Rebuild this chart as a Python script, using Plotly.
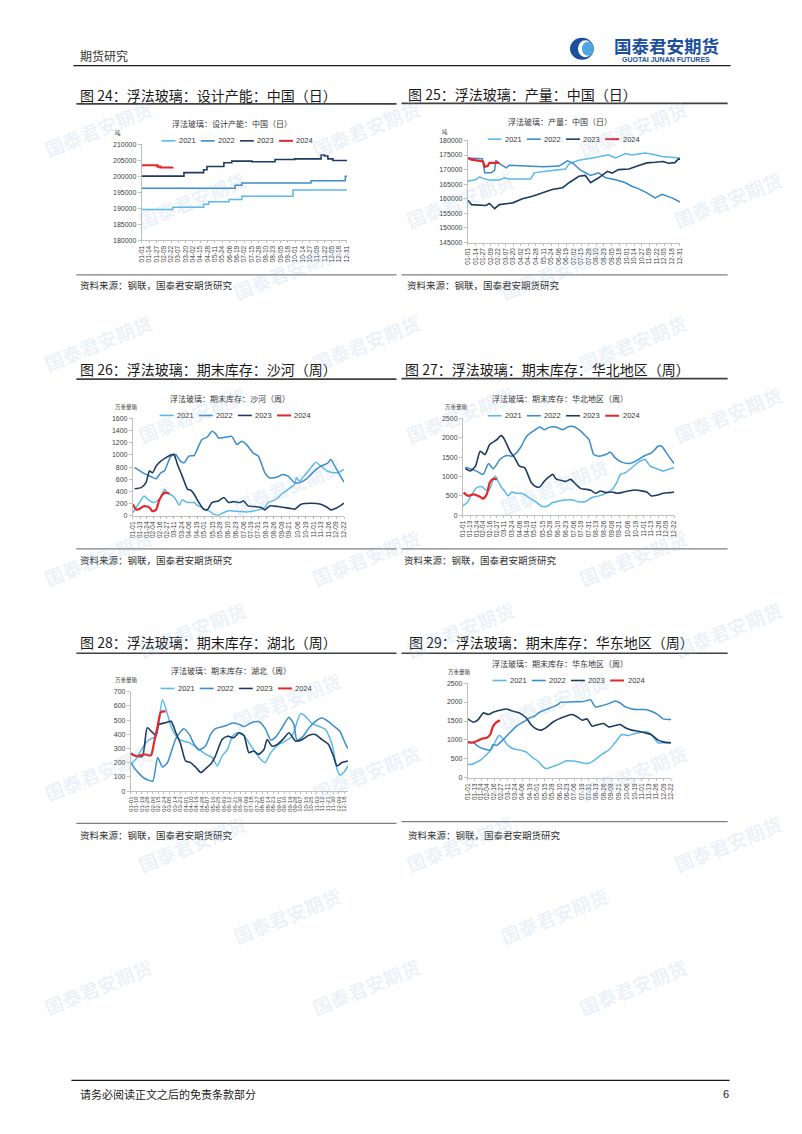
import datetime
import plotly.graph_objects as go

W, H = 802, 1134

# ------------------------------------------------------------------ data
YEARS = ["2021", "2022", "2023", "2024"]

DAILY_TICKS = ["01-01", "01-14", "01-27", "02-09", "02-22", "03-07", "03-20", "04-02",
               "04-15", "04-28", "05-11", "05-24", "06-06", "06-19", "07-02", "07-15",
               "07-28", "08-10", "08-23", "09-05", "09-18", "10-01", "10-14", "10-27",
               "11-09", "11-22", "12-05", "12-18", "12-31"]
WEEKLY_TICKS = ["01-01", "01-13", "01-24", "02-04", "02-16", "02-27", "03-11", "03-24",
                "04-06", "04-19", "05-01", "05-15", "05-28", "06-10", "06-23", "07-06",
                "07-19", "07-31", "08-13", "08-26", "09-08", "09-21", "10-06", "10-19",
                "11-01", "11-13", "11-26", "12-09", "12-22"]
HUBEI_TICKS = ["01-01", "01-10", "01-19", "01-28", "02-06", "02-15", "02-24", "03-05",
               "03-14", "03-23", "04-01", "04-10", "04-19", "04-28", "05-07", "05-16",
               "05-25", "06-03", "06-12", "06-21", "06-30", "07-09", "07-18", "07-27",
               "08-05", "08-14", "08-23", "09-01", "09-10", "09-19", "09-28", "10-07",
               "10-16", "10-25", "11-03", "11-12", "11-21", "11-30", "12-09", "12-18"]

# Fig 24 design capacity (t/day), x = day of year
CAP21_D = [0, 55, 110, 119, 155, 178, 269, 365]
CAP21_V = [189600, 190300, 191200, 192000, 192700, 193700, 195700, 195700]
CAP22_D = [0, 166, 178, 301, 357, 362, 365]
CAP22_V = [196200, 197200, 197900, 198600, 198600, 200000, 200000]
CAP23_D = [0, 75, 110, 116, 146, 160, 196, 237, 272, 319, 325, 331, 340, 365]
CAP23_V = [200000, 201100, 202000, 203000, 204200, 204700, 204500, 205200, 205400,
           206600, 206300, 205400, 204900, 204900]
CAP24_D = [0, 28, 33, 55]
CAP24_V = [203400, 203000, 202700, 202800]

# Fig 25 output (t/day)
OUT21_D = [0, 14, 20, 26, 37, 54, 63, 71, 108, 114, 134, 157, 168, 174, 191, 214, 242,
           254, 271, 282, 305, 322, 334, 365]
OUT21_V = [166000, 166600, 167500, 167000, 166400, 166400, 167200, 166800, 166800,
           168900, 169400, 169800, 170200, 172000, 173200, 174000, 175100, 174000,
           175500, 175000, 175700, 175100, 174500, 174000]
OUT22_D = [0, 25, 29, 40, 46, 48, 55, 66, 71, 100, 130, 157, 171, 180, 194, 211, 225,
           237, 254, 271, 282, 294, 308, 322, 334, 351, 365]
OUT22_V = [174000, 173700, 168900, 168900, 169800, 173200, 172000, 170600, 171500,
           171300, 171000, 171200, 173000, 172300, 169800, 168000, 168900, 167200,
           166500, 165500, 164300, 163400, 162000, 160300, 161500, 160300, 158900]
OUT23_D = [0, 6, 31, 37, 46, 54, 77, 94, 111, 128, 145, 163, 174, 191, 202, 211, 225,
           240, 248, 259, 277, 294, 308, 322, 336, 345, 356, 362, 365]
OUT23_V = [159500, 158000, 157700, 158400, 156600, 158000, 158600, 160000, 160900,
           162000, 163200, 163800, 165500, 167700, 168000, 165500, 167200, 169400,
           168800, 170000, 170200, 171400, 172300, 172500, 172800, 172200, 172400,
           173600, 173600]
OUT24_D = [0, 6, 20, 26, 29, 34, 37, 54]
OUT24_V = [174000, 173400, 173000, 172800, 171000, 171200, 172300, 172300]

# Fig 26 Shahe inventory (10k weight boxes)
SH21_D = [0, 11, 19, 25, 36, 47, 53, 58, 67, 72, 78, 83, 92, 103, 108, 116, 122, 128,
          136, 144, 153, 161, 178, 194, 211, 222, 227, 239, 250, 261, 272, 275, 280,
          288, 297, 308, 316, 327, 338, 347, 355]
SH21_V = [54, 218, 327, 272, 218, 300, 435, 381, 327, 272, 174, 261, 218, 218, 174, 136,
          98, 82, 27, 11, 54, 82, 71, 65, 98, 136, 218, 261, 354, 435, 517, 626, 571,
          653, 762, 882, 816, 735, 707, 718, 762]
SH22_D = [3, 17, 31, 39, 47, 53, 64, 72, 80, 86, 94, 103, 108, 116, 125, 133, 139, 144,
          155, 166, 175, 183, 191, 202, 211, 222, 230, 244, 252, 261, 272, 283, 294,
          305, 316, 327, 333, 341, 349, 355]
SH22_V = [790, 707, 642, 610, 707, 735, 980, 1007, 898, 870, 980, 990, 1088, 1250, 1295,
          1388, 1350, 1279, 1290, 1306, 1170, 1224, 1170, 1034, 980, 707, 626, 642, 680,
          653, 544, 555, 626, 735, 816, 860, 925, 790, 653, 555]
SH23_D = [3, 14, 22, 28, 33, 39, 47, 55, 64, 69, 75, 83, 92, 97, 103, 111, 119, 125,
          133, 144, 153, 161, 169, 180, 186, 194, 205, 216, 222, 230, 244, 255, 266,
          272, 283, 300, 316, 327, 333, 344, 355]
SH23_V = [446, 463, 544, 735, 707, 816, 898, 952, 1001, 1012, 843, 653, 435, 424, 354,
          218, 109, 98, 218, 245, 300, 218, 234, 218, 245, 163, 152, 136, 98, 163, 152,
          136, 120, 109, 190, 207, 190, 136, 98, 136, 207]
SH24_D = [0, 6, 12, 19, 28, 33, 39, 44, 50, 55, 61]
SH24_V = [190, 100, 120, 160, 136, 75, 100, 245, 354, 381, 365]

# Fig 27 North China inventory
NC21_D = [0, 7, 15, 23, 32, 37, 43, 48, 54, 59, 65, 70, 76, 82, 90, 98, 107, 115, 123,
          131, 140, 151, 162, 173, 184, 195, 206, 217, 229, 240, 251, 259, 265, 273,
          284, 295, 306, 315, 326, 337, 345, 355]
NC21_V = [240, 325, 539, 711, 736, 668, 625, 796, 1010, 882, 711, 625, 497, 599, 565,
          565, 497, 411, 342, 240, 223, 325, 368, 394, 394, 342, 351, 454, 497, 565, 668,
          856, 1053, 1096, 1224, 1370, 1438, 1267, 1199, 1139, 1182, 1224]
NC22_D = [4, 12, 23, 34, 43, 51, 62, 73, 82, 90, 98, 107, 115, 123, 129, 137, 145, 156,
          168, 176, 184, 195, 204, 212, 220, 229, 240, 248, 256, 267, 281, 295, 306,
          317, 328, 334, 342, 350, 355]
NC22_V = [1241, 1199, 1139, 1053, 1336, 1199, 1438, 1541, 1524, 1610, 1781, 2038, 2140,
          2226, 2277, 2209, 2269, 2277, 2209, 2277, 2295, 2209, 2080, 1952, 1567, 1524,
          1567, 1627, 1481, 1370, 1336, 1438, 1541, 1610, 1781, 1781, 1610, 1438, 1336]
NC23_D = [4, 12, 21, 29, 37, 45, 57, 62, 65, 70, 79, 87, 95, 104, 109, 115, 123, 129,
          137, 145, 151, 156, 162, 173, 181, 190, 198, 206, 215, 223, 231, 240, 251,
          259, 267, 278, 290, 301, 309, 317, 326, 337, 348, 355]
NC23_V = [1207, 1139, 1267, 1652, 1567, 1824, 1952, 2038, 2055, 1952, 1652, 1481, 1267,
          1224, 1053, 839, 736, 728, 882, 993, 1053, 942, 908, 873, 925, 796, 685, 668,
          642, 565, 625, 582, 599, 565, 582, 625, 651, 625, 599, 497, 514, 565, 582, 599]
NC24_D = [1, 9, 18, 26, 34, 40, 45, 51, 57]
NC24_V = [582, 497, 539, 497, 428, 539, 839, 942, 925]

# Fig 28 Hubei inventory
HB21_D = [0, 8, 16, 25, 33, 41, 46, 52, 68, 79, 96, 112, 123, 134, 142, 150, 159, 167,
          175, 186, 194, 205, 216, 221, 230, 243, 254, 265, 279, 287, 298, 309, 320,
          331, 339, 344, 350, 357]
HB21_V = [189, 224, 282, 341, 369, 383, 481, 644, 434, 364, 341, 294, 259, 236, 177,
          247, 294, 387, 411, 392, 341, 271, 212, 201, 271, 329, 352, 387, 546, 527, 476,
          457, 434, 329, 154, 112, 131, 177]
HB22_D = [0, 8, 19, 27, 36, 44, 52, 60, 74, 87, 96, 104, 112, 123, 131, 139, 156, 167,
          178, 186, 197, 210, 221, 230, 238, 249, 260, 268, 273, 282, 292, 303, 314,
          325, 336, 344, 353, 357]
HB22_V = [201, 150, 100, 80, 70, 236, 170, 200, 370, 440, 400, 330, 290, 320, 400, 440,
          460, 480, 470, 455, 480, 490, 440, 360, 380, 450, 520, 470, 360, 380, 440, 490,
          515, 490, 450, 420, 330, 300]
HB23_D = [0, 8, 19, 27, 36, 41, 46, 57, 66, 74, 82, 90, 98, 107, 115, 123, 131, 139,
          150, 159, 169, 178, 186, 194, 202, 210, 219, 224, 232, 241, 251, 260, 271,
          282, 292, 303, 314, 325, 333, 339, 347, 357]
HB23_V = [266, 247, 247, 446, 411, 392, 469, 481, 492, 411, 329, 212, 201, 166, 131, 159,
          189, 247, 364, 387, 376, 411, 392, 271, 282, 259, 294, 364, 317, 329, 369, 411,
          352, 364, 392, 399, 364, 329, 247, 177, 201, 212]
HB24_D = [0, 5, 11, 22, 33, 38, 44, 49, 55, 57]
HB24_V = [266, 252, 247, 259, 252, 341, 457, 555, 562, 560]

# Fig 29 East China inventory
EC21_D = [0, 7, 16, 24, 33, 41, 47, 53, 56, 62, 70, 79, 90, 102, 113, 122, 131, 136, 148,
          159, 171, 182, 194, 203, 211, 223, 234, 246, 257, 269, 280, 292, 303, 315,
          323, 332, 343, 355]
EC21_V = [358, 358, 420, 490, 621, 752, 927, 1101, 1119, 1014, 857, 769, 734, 682, 533,
          446, 297, 245, 297, 358, 446, 446, 420, 385, 385, 490, 621, 734, 927, 1145,
          1119, 1171, 1206, 1206, 1084, 927, 927, 927]
EC22_D = [0, 10, 17, 27, 39, 44, 50, 62, 73, 85, 96, 108, 116, 125, 136, 148, 157, 162,
          171, 182, 197, 208, 214, 223, 234, 246, 257, 266, 275, 286, 297, 309, 320,
          332, 341, 355]
EC22_V = [944, 927, 839, 769, 734, 883, 857, 1014, 1189, 1364, 1468, 1582, 1626, 1731,
          1801, 1871, 1932, 1993, 1993, 2010, 2010, 2037, 2063, 1871, 1906, 1958, 2028,
          1975, 1871, 1818, 1801, 1801, 1757, 1670, 1556, 1538]
EC23_D = [0, 10, 18, 27, 36, 44, 56, 67, 79, 90, 102, 110, 119, 128, 136, 148, 159, 171,
          182, 191, 200, 208, 217, 228, 237, 246, 257, 266, 275, 286, 297, 309, 320,
          332, 343, 355]
EC23_V = [1556, 1468, 1538, 1713, 1670, 1731, 1783, 1818, 1757, 1713, 1582, 1407, 1294,
          1259, 1320, 1468, 1556, 1626, 1670, 1608, 1521, 1556, 1364, 1407, 1434, 1346,
          1381, 1407, 1320, 1259, 1232, 1189, 1145, 996, 944, 927]
EC24_D = [0, 7, 16, 24, 33, 39, 44, 50, 56]
EC24_V = [944, 927, 970, 1031, 1058, 1145, 1364, 1468, 1521]

# ------------------------------------------------------------------ styles
COLORS = {"2021": "#5BB9E8", "2022": "#3A8CCB", "2023": "#1D3B62", "2024": "#E5262B"}
WIDTHS = {"2021": 1.5, "2022": 1.5, "2023": 1.6, "2024": 2.2}
CJK = "Noto Sans CJK SC"
LAT = "Liberation Sans, Arial, sans-serif"


def doy(lbl):
    m, d = map(int, lbl.split("-"))
    return (datetime.date(2023, m, d) - datetime.date(2023, 1, 1)).days


def fx(x):
    return x / W


def fy(y):
    return 1 - y / H


CHARTS = [
    dict(n=24, title="图 24：浮法玻璃：设计产能：中国（日）", inner="浮法玻璃：设计产能：中国（日）",
         unit="吨", x0=139, x1=346, y0=141, y1=237.7, yr=[180000, 210000], dt=5000,
         ticks=DAILY_TICKS, xmax=365, shape="hv",
         series=[(CAP21_D, CAP21_V), (CAP22_D, CAP22_V), (CAP23_D, CAP23_V), (CAP24_D, CAP24_V)],
         tx=75, ty=91.5, lx0=73, lx1=396, lty=100.5, lby=272.5, sy=283,
         ic=230, iy=120.5, ux=115, uy=129.5, leg_x=159, leg_y=137.7),
    dict(n=25, title="图 25：浮法玻璃：产量：中国（日）", inner="浮法玻璃：产量：中国（日）",
         unit="吨", x0=468, x1=682, y0=137.3, y1=240, yr=[145000, 180000], dt=5000,
         ticks=DAILY_TICKS, xmax=365, shape="linear",
         series=[(OUT21_D, OUT21_V), (OUT22_D, OUT22_V), (OUT23_D, OUT23_V), (OUT24_D, OUT24_V)],
         tx=406, ty=91, lx0=401, lx1=730, lty=100, lby=272.5, sy=283,
         ic=561, iy=118.5, ux=445, uy=128.5, leg_x=488, leg_y=136),
    dict(n=26, title="图 26：浮法玻璃：期末库存：沙河（周）", inner="浮法玻璃：期末库存：沙河（周）",
         unit="万重量箱", x0=130, x1=343, y0=417, y1=515, yr=[0, 1600], dt=200,
         ticks=WEEKLY_TICKS, xmax=355, shape="spline",
         series=[(SH21_D, SH21_V), (SH22_D, SH22_V), (SH23_D, SH23_V), (SH24_D, SH24_V)],
         tx=75, ty=367, lx0=73, lx1=396, lty=377.5, lby=548.3, sy=559,
         ic=228, iy=396.8, ux=124, uy=405, leg_x=157, leg_y=414),
    dict(n=27, title="图 27：浮法玻璃：期末库存：华北地区（周）", inner="浮法玻璃：期末库存：华北地区（周）",
         unit="万重量箱", x0=463, x1=676, y0=417, y1=514.3, yr=[0, 2500], dt=500,
         ticks=WEEKLY_TICKS, xmax=355, shape="spline",
         series=[(NC21_D, NC21_V), (NC22_D, NC22_V), (NC23_D, NC23_V), (NC24_D, NC24_V)],
         tx=403, ty=367, lx0=401, lx1=730, lty=377, lby=548.3, sy=559,
         ic=561, iy=397.3, ux=456.5, uy=405, leg_x=488, leg_y=414.3),
    dict(n=28, title="图 28：浮法玻璃：期末库存：湖北（周）", inner="浮法玻璃：期末库存：湖北（周）",
         unit="万重量箱", x0=128, x1=347, y0=692, y1=792, yr=[0, 700], dt=100,
         ticks=HUBEI_TICKS, xmax=357, shape="spline",
         series=[(HB21_D, HB21_V), (HB22_D, HB22_V), (HB23_D, HB23_V), (HB24_D, HB24_V)],
         tx=75, ty=642, lx0=73, lx1=396, lty=653.3, lby=824.5, sy=836,
         ic=229, iy=670.7, ux=124, uy=680, leg_x=158, leg_y=688.7),
    dict(n=29, title="图 29：浮法玻璃：期末库存：华东地区（周）", inner="浮法玻璃：期末库存：华东地区（周）",
         unit="万重量箱", x0=468, x1=673, y0=683.3, y1=778.7, yr=[0, 2500], dt=500,
         ticks=WEEKLY_TICKS, xmax=355, shape="spline",
         series=[(EC21_D, EC21_V), (EC22_D, EC22_V), (EC23_D, EC23_V), (EC24_D, EC24_V)],
         tx=407, ty=642, lx0=401, lx1=730, lty=653.3, lby=822.7, sy=836,
         ic=561, iy=664, ux=460, uy=672, leg_x=493, leg_y=680.7),
]

fig = go.Figure()
annotations = []
shapes = []
layout_axes = {}


def add_text(x, y, s, size, color="#222222", xanchor="left", family=CJK, angle=0, bold=False):
    annotations.append(dict(
        x=fx(x), y=fy(y), xref="paper", yref="paper", text=("<b>%s</b>" % s) if bold else s,
        showarrow=False, xanchor=xanchor, yanchor="middle", textangle=angle,
        font=dict(size=size, color=color, family=family)))


def add_line(x0, y0, x1, y1, color, width):
    shapes.append(dict(type="line", xref="paper", yref="paper", x0=fx(x0), y0=fy(y0),
                       x1=fx(x1), y1=fy(y1), line=dict(color=color, width=width)))


for i, c in enumerate(CHARTS, start=1):
    xa = "x" if i == 1 else "x%d" % i
    ya = "y" if i == 1 else "y%d" % i
    for year, (d, v) in zip(YEARS, c["series"]):
        line = dict(color=COLORS[year], width=WIDTHS[year], shape=c["shape"])
        if c["shape"] == "spline":
            line["smoothing"] = 0.6
        fig.add_trace(go.Scatter(x=d, y=v, mode="lines", name=year, line=line,
                                 xaxis=xa, yaxis=ya, showlegend=False, hoverinfo="skip"))
    tv = [doy(t) for t in c["ticks"]]
    layout_axes["xaxis" if i == 1 else "xaxis%d" % i] = dict(
        domain=[fx(c["x0"]), fx(c["x1"])], anchor=ya, range=[0, c["xmax"]],
        tickmode="array", tickvals=tv, ticktext=c["ticks"], tickangle=-90,
        tickfont=dict(size=6.5 if c["n"] != 28 else 6, family=LAT, color="#404040"),
        showline=True, linecolor="#bfbfbf", linewidth=1, ticks="outside", ticklen=2,
        tickcolor="#bfbfbf", showgrid=False, zeroline=False, fixedrange=True)
    layout_axes["yaxis" if i == 1 else "yaxis%d" % i] = dict(
        domain=[fy(c["y1"]), fy(c["y0"])], anchor=xa, range=c["yr"], dtick=c["dt"],
        tick0=c["yr"][0], tickformat="d",
        tickfont=dict(size=7, family=LAT, color="#404040"),
        showline=True, linecolor="#bfbfbf", linewidth=1, ticks="outside", ticklen=3,
        tickcolor="#bfbfbf", showgrid=False, zeroline=False, fixedrange=True)

    # figure title, rules, source
    add_text(c["tx"], c["ty"], c["title"], 14, "#1a1a1a")
    add_line(c["lx0"], c["lty"], c["lx1"], c["lty"], "#404040", 1.6)
    add_line(c["lx0"], c["lby"], c["lx1"], c["lby"], "#7f7f7f", 1.2)
    add_text(c["tx"] if c["n"] % 2 == 0 else c["tx"] - 1, c["sy"],
             "资料来源：钢联，国泰君安期货研究", 9.5, "#333333")
    # inner title and unit
    add_text(c["ic"], c["iy"], c["inner"], 8, "#333333", xanchor="center")
    add_text(c["ux"], c["uy"], c["unit"], 5.5, "#444444", xanchor="center")
    # legend
    for k, year in enumerate(YEARS):
        lx = c["leg_x"] + k * 39.5
        add_line(lx, c["leg_y"], lx + 14, c["leg_y"], COLORS[year], 2 if year == "2024" else 1.6)
        add_text(lx + 15.5, c["leg_y"], year, 7.5, "#333333", family=LAT)

# ------------------------------------------------------------------ page header / footer
add_text(75, 52, "期货研究", 12, "#333333")
add_line(70, 62, 733, 62, "#1a1a1a", 1.3)
add_line(68, 1083, 732, 1083, "#1a1a1a", 1.3)
add_text(75, 1097, "请务必阅读正文之后的免责条款部分", 11, "#222222")
add_text(728, 1097, "6", 11, "#222222", xanchor="center", family=LAT)

# logo
shapes.append(dict(type="circle", xref="paper", yref="paper", x0=fx(571), x1=fx(595),
                   y0=fy(56), y1=fy(34), fillcolor="#1B4F9E", line=dict(width=0)))
shapes.append(dict(type="circle", xref="paper", yref="paper", x0=fx(579), x1=fx(594),
                   y0=fy(53.5), y1=fy(36.5), fillcolor="#FFFFFF", line=dict(width=0)))
shapes.append(dict(type="circle", xref="paper", yref="paper", x0=fx(583), x1=fx(595),
                   y0=fy(52), y1=fy(38), fillcolor="#4DA6E0", line=dict(width=0)))
add_text(668, 41.5, "国泰君安期货", 17.5, "#1B4F9E", xanchor="center", bold=True)
add_text(668, 56, "GUOTAI JUNAN FUTURES", 7, "#1B4F9E", xanchor="center", family=LAT, bold=True)

# watermarks
for r in range(14):
    yy = 125 + r * 72
    start = 95 + (r % 3) * 95
    for cidx in range(3):
        xx = start + cidx * 270
        if xx > 760 or yy > 1060:
            continue
        add_text(xx, yy, "国泰君安期货", 19, "rgba(150,185,220,0.19)", xanchor="center",
                 angle=-22, bold=True)

fig.update_layout(
    width=W, height=H, margin=dict(l=0, r=0, t=0, b=0), autosize=False,
    paper_bgcolor="white", plot_bgcolor="rgba(0,0,0,0)", showlegend=False,
    annotations=annotations, shapes=shapes, **layout_axes)

fig.write_html("out.html")
